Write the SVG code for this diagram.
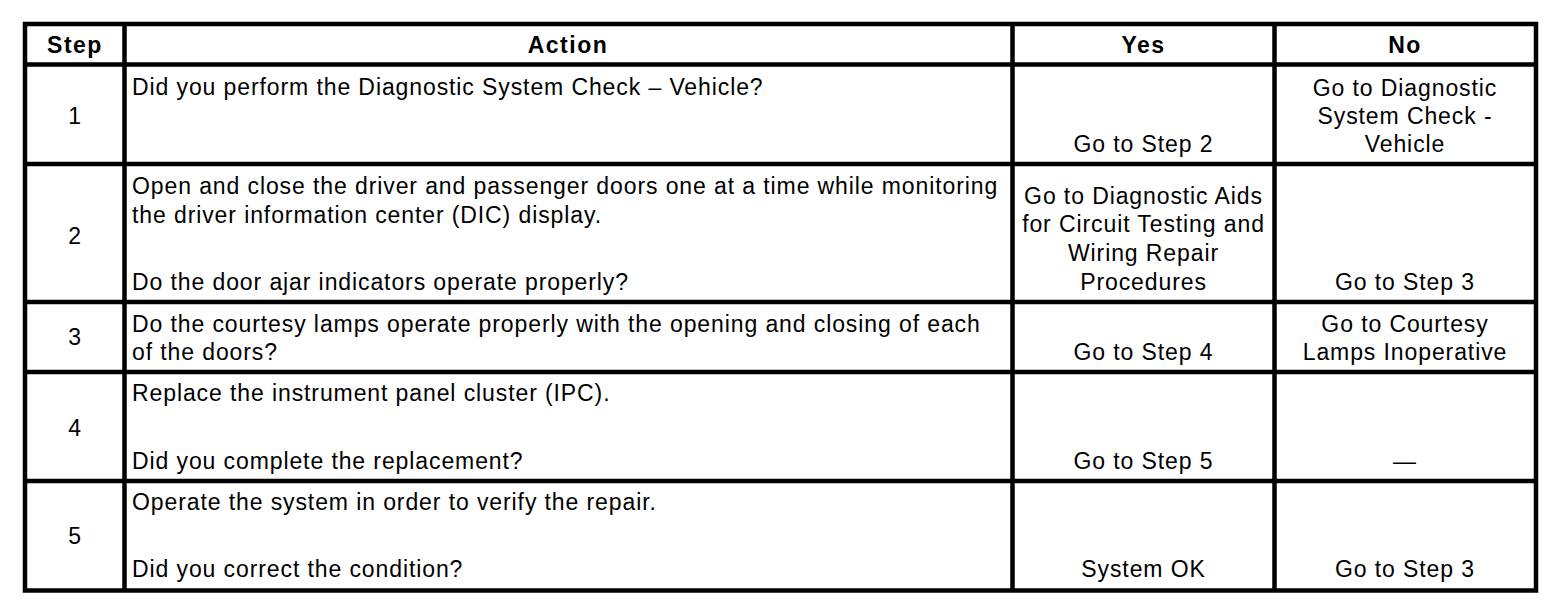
<svg xmlns="http://www.w3.org/2000/svg" width="1568" height="606" viewBox="0 0 1568 606">
<style>
text{font-family:"Liberation Sans",Arial,sans-serif;font-size:23px;letter-spacing:0.9px;fill:#000}
.h{font-weight:bold;letter-spacing:1.5px}
.c{text-anchor:middle}
.grid{fill:none;stroke:#000;stroke-width:4.5;stroke-linecap:square}
</style>
<rect width="1568" height="606" fill="#fff"/>
<g id="grid">
<path class="grid" d="M25 24H1536V590.5H25Z M25 64.5H1536 M25 164H1536 M25 302H1536 M25 372H1536 M25 481H1536 M124.5 24V590.5 M1012.5 24V590.5 M1274.5 24V590.5"/>
</g>
<g id="header">
<text class="h c" x="75" y="53">Step</text>
<text class="h c" x="568" y="53">Action</text>
<text class="h c" x="1143.5" y="53">Yes</text>
<text class="h c" x="1405" y="53">No</text>
</g>
<g id="row1">
<text class="c" x="75" y="124">1</text>
<text x="132" y="95">Did you perform the Diagnostic System Check – Vehicle?</text>
<text class="c" x="1143.5" y="152">Go to Step 2</text>
<text class="c" x="1405" y="96">Go to Diagnostic</text>
<text class="c" x="1405" y="124">System Check -</text>
<text class="c" x="1405" y="152">Vehicle</text>
</g>
<g id="row2">
<text class="c" x="75" y="244">2</text>
<text x="132" y="194">Open and close the driver and passenger doors one at a time while monitoring</text>
<text x="132" y="223">the driver information center (DIC) display.</text>
<text x="132" y="290">Do the door ajar indicators operate properly?</text>
<text class="c" x="1143.5" y="204">Go to Diagnostic Aids</text>
<text class="c" x="1143.5" y="232">for Circuit Testing and</text>
<text class="c" x="1143.5" y="261">Wiring Repair</text>
<text class="c" x="1143.5" y="290">Procedures</text>
<text class="c" x="1405" y="290">Go to Step 3</text>
</g>
<g id="row3">
<text class="c" x="75" y="345">3</text>
<text x="132" y="332">Do the courtesy lamps operate properly with the opening and closing of each</text>
<text x="132" y="360">of the doors?</text>
<text class="c" x="1143.5" y="360">Go to Step 4</text>
<text class="c" x="1405" y="332">Go to Courtesy</text>
<text class="c" x="1405" y="360">Lamps Inoperative</text>
</g>
<g id="row4">
<text class="c" x="75" y="436">4</text>
<text x="132" y="401">Replace the instrument panel cluster (IPC).</text>
<text x="132" y="469">Did you complete the replacement?</text>
<text class="c" x="1143.5" y="469">Go to Step 5</text>
<text class="c" x="1405" y="469">—</text>
</g>
<g id="row5">
<text class="c" x="75" y="544">5</text>
<text x="132" y="510">Operate the system in order to verify the repair.</text>
<text x="132" y="577">Did you correct the condition?</text>
<text class="c" x="1143.5" y="577">System OK</text>
<text class="c" x="1405" y="577">Go to Step 3</text>
</g>
</svg>
